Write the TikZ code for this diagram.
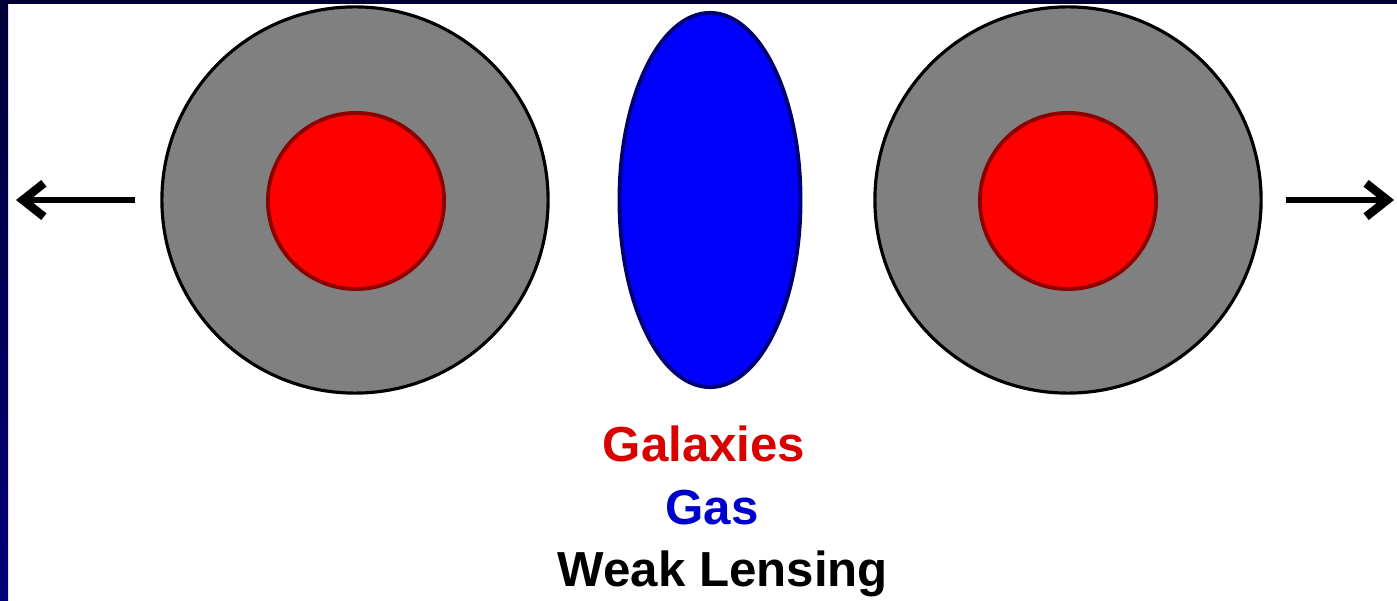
\documentclass[tikz,border=0pt]{standalone}
\usepackage{fontspec}
\setmainfont{Liberation Sans}
\usetikzlibrary{arrows.meta,positioning}
\definecolor{frameblue}{RGB}{0,0,120}
\definecolor{framedark}{RGB}{0,0,55}
\definecolor{halogray}{RGB}{128,128,128}
\definecolor{galred}{RGB}{255,0,0}
\definecolor{gasblue}{RGB}{0,0,255}
\tikzset{
  halo/.style={circle,draw=black,line width=0.9pt,fill=halogray,minimum size=3.86cm,inner sep=0pt},
  core/.style={circle,draw=galred!55!black,line width=1.1pt,fill=galred,minimum size=1.76cm,inner sep=0pt},
  gas/.style={ellipse,draw=gasblue!45!black,line width=1.1pt,fill=gasblue,minimum width=1.81cm,minimum height=3.74cm,inner sep=0pt},
  legend/.style={font=\fontsize{14}{16}\selectfont\bfseries,anchor=base,inner sep=0pt},
  motion/.style={line width=1.6pt,-{Straight Barb[length=6pt,width=9.5pt,line width=2.4pt]}}
}
\usetikzlibrary{shapes.geometric}
\begin{document}
\begin{tikzpicture}[x=0.01cm,y=0.01cm]
  \useasboundingbox (0,0) rectangle (1397,600);
  % frame
  \fill[white] (0,0) rectangle (1397,600);
  \shade[top color=framedark,bottom color=frameblue] (0,0) rectangle (8,600);
  \fill[framedark] (0,596) rectangle (1397,600);
  % clusters
  \node[halo] (haloL) at (355,400) {};
  \node[core] (coreL) at (356,399) {};
  \node[gas] (gas) at (710,400) {};
  \node[halo] (haloR) at (1068,400) {};
  \node[core] (coreR) at (1068,399) {};
  % motion
  \coordinate (tipL) at (16,400);
  \coordinate (tipR) at (1394,400);
  \draw[motion,shorten <=0.25cm] (haloL.west) -- (tipL);
  \draw[motion,shorten <=0.23cm] (haloR.east) -- (tipR);
  % legend
  \node[legend,text=galred!85!black] (lgal) at (704,138) {Galaxies};
  \node[legend,text=gasblue!80!black] (lgas) at (712,75) {Gas};
  \node[legend,text=black] (llens) at (723,13) {Weak Lensing};
\end{tikzpicture}
\end{document}
